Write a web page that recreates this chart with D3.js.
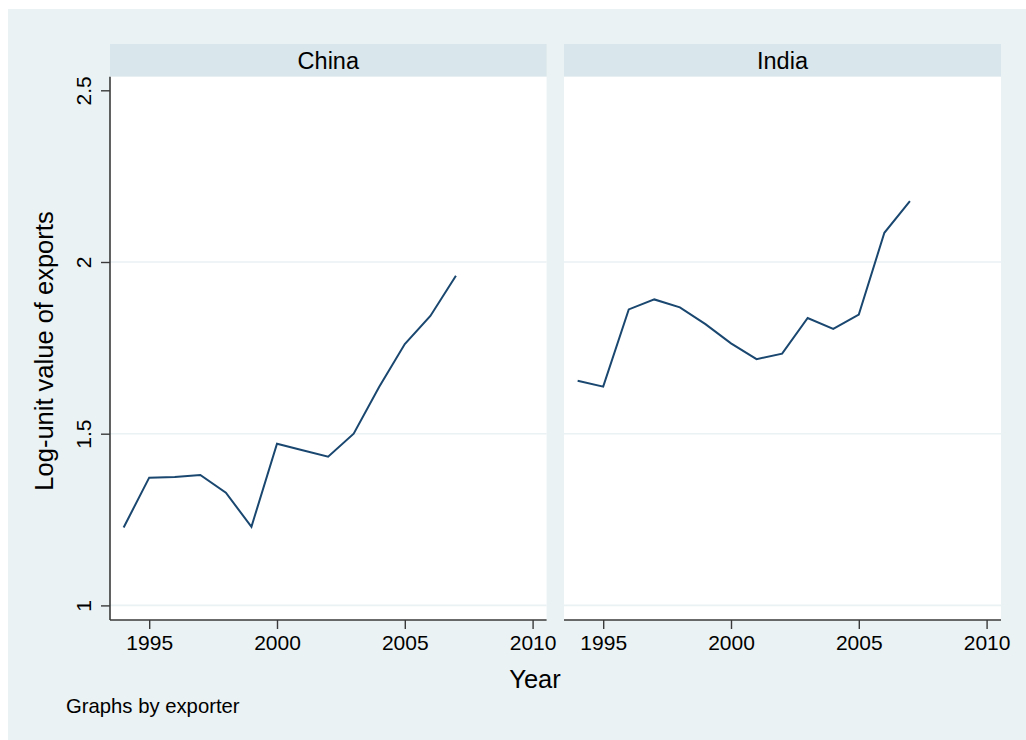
<!DOCTYPE html>
<html>
<head>
<meta charset="utf-8">
<script src="https://cdn.jsdelivr.net/npm/d3@7"></script>
<style>
  html, body { margin: 0; padding: 0; background: #ffffff; }
  svg { display: block; font-family: "Liberation Sans", Arial, Helvetica, sans-serif; }
</style>
</head>
<body>
<svg id="chart" width="1026" height="740"></svg>
<script>
// Years observed for each exporter
const years = [1994, 1995, 1996, 1997, 1998, 1999, 2000, 2001, 2002, 2003, 2004, 2005, 2006, 2007];

// Log-unit value of exports, by exporter
const chinaValues = [1.227, 1.372, 1.374, 1.380, 1.328, 1.229, 1.471, 1.452, 1.433, 1.500, 1.637, 1.761, 1.843, 1.960];
const indiaValues = [1.654, 1.637, 1.862, 1.891, 1.868, 1.819, 1.763, 1.717, 1.733, 1.837, 1.805, 1.847, 2.085, 2.177];

const exporters = ["China", "India"];
const seriesByExporter = [chinaValues, indiaValues];

// Axis ticks
const xTicks = [1995, 2000, 2005, 2010];
const yTicks = [1, 1.5, 2, 2.5];
const yGrid = [1, 1.5, 2];

const yTitle = "Log-unit value of exports";
const xTitle = "Year";
const note = "Graphs by exporter";

const svg = d3.select("#chart");
const W = 1026, H = 740;

// Outer graph region
svg.append("rect").attr("x", 0).attr("y", 0).attr("width", W).attr("height", H).attr("fill", "#ffffff");
svg.append("rect").attr("x", 8).attr("y", 9).attr("width", W - 8).attr("height", H - 9).attr("fill", "#EAF2F3");

const stripTop = 44, stripBottom = 76.7, plotBottom = 620;
const panels = [
  { x0: 110, x1: 546.6 },
  { x0: 564, x1: 1001 }
];

// Shared vertical scale
const y = d3.scaleLinear().domain([1, 2.5]).range([605.4, 90.3]);

panels.forEach((p, i) => {
  const g = svg.append("g");
  const x = d3.scaleLinear().domain([1995, 2010]).range([p.x0 + 39.2, p.x0 + 422.6]);

  // header strip
  g.append("rect")
    .attr("x", p.x0).attr("y", stripTop)
    .attr("width", p.x1 - p.x0).attr("height", stripBottom - stripTop)
    .attr("fill", "#D9E6EB");
  g.append("text")
    .attr("x", (p.x0 + p.x1) / 2).attr("y", (stripTop + stripBottom) / 2)
    .attr("dy", "0.36em")
    .attr("text-anchor", "middle")
    .attr("font-size", 23.5)
    .attr("fill", "#000")
    .text(exporters[i]);

  // plot region
  g.append("rect")
    .attr("x", p.x0).attr("y", stripBottom)
    .attr("width", p.x1 - p.x0).attr("height", plotBottom - stripBottom)
    .attr("fill", "#ffffff");

  // grid lines
  g.selectAll(".grid").data(yGrid).enter().append("line")
    .attr("x1", p.x0).attr("x2", p.x1)
    .attr("y1", d => y(d)).attr("y2", d => y(d))
    .attr("stroke", "#EAF2F3").attr("stroke-width", 1.6);

  // x axis
  const xAxis = d3.axisBottom(x).tickValues(xTicks).tickFormat(d3.format("d")).tickSize(9).tickPadding(6);
  const gx = g.append("g").attr("transform", `translate(0,${plotBottom})`).call(xAxis);
  gx.select(".domain").remove();
  gx.append("line")
    .attr("x1", p.x0).attr("x2", p.x1).attr("y1", 0).attr("y2", 0)
    .attr("stroke", "#3a3a3a").attr("stroke-width", 1.6);
  gx.selectAll(".tick line").attr("stroke", "#3a3a3a").attr("stroke-width", 1.4);
  gx.selectAll(".tick text")
    .attr("font-size", 21).attr("fill", "#000")
    .attr("font-family", "'Liberation Sans', Arial, Helvetica, sans-serif");

  // y axis on the first panel only
  if (i === 0) {
    const yAxis = d3.axisLeft(y).tickValues(yTicks).tickFormat(d => String(d)).tickSize(9).tickPadding(0);
    const gy = g.append("g").attr("transform", `translate(${p.x0},0)`).call(yAxis);
    gy.select(".domain").remove();
    gy.append("line")
      .attr("x1", 0).attr("x2", 0).attr("y1", stripBottom).attr("y2", plotBottom)
      .attr("stroke", "#3a3a3a").attr("stroke-width", 1.6);
    gy.selectAll(".tick line").attr("stroke", "#3a3a3a").attr("stroke-width", 1.4);
    gy.selectAll(".tick text")
      .attr("font-size", 21).attr("fill", "#000")
      .attr("font-family", "'Liberation Sans', Arial, Helvetica, sans-serif")
      .attr("text-anchor", "middle")
      .attr("x", null).attr("dy", null)
      .attr("transform", "translate(-19,0) rotate(-90)")
      .attr("y", 0);
  }

  // series line
  const line = d3.line().x(d => x(d[0])).y(d => y(d[1]));
  const pts = years.map((yr, k) => [yr, seriesByExporter[i][k]]);
  g.append("path")
    .datum(pts)
    .attr("d", line)
    .attr("fill", "none")
    .attr("stroke", "#1A476F")
    .attr("stroke-width", 2);
});

// axis titles
svg.append("text")
  .attr("transform", `translate(53,351) rotate(-90)`)
  .attr("text-anchor", "middle")
  .attr("font-size", 25.5)
  .attr("fill", "#000")
  .text(yTitle);

svg.append("text")
  .attr("x", 535).attr("y", 688)
  .attr("text-anchor", "middle")
  .attr("font-size", 25.5)
  .attr("fill", "#000")
  .text(xTitle);

svg.append("text")
  .attr("x", 66).attr("y", 713)
  .attr("font-size", 20.3)
  .attr("fill", "#000")
  .text(note);
</script>
</body>
</html>
